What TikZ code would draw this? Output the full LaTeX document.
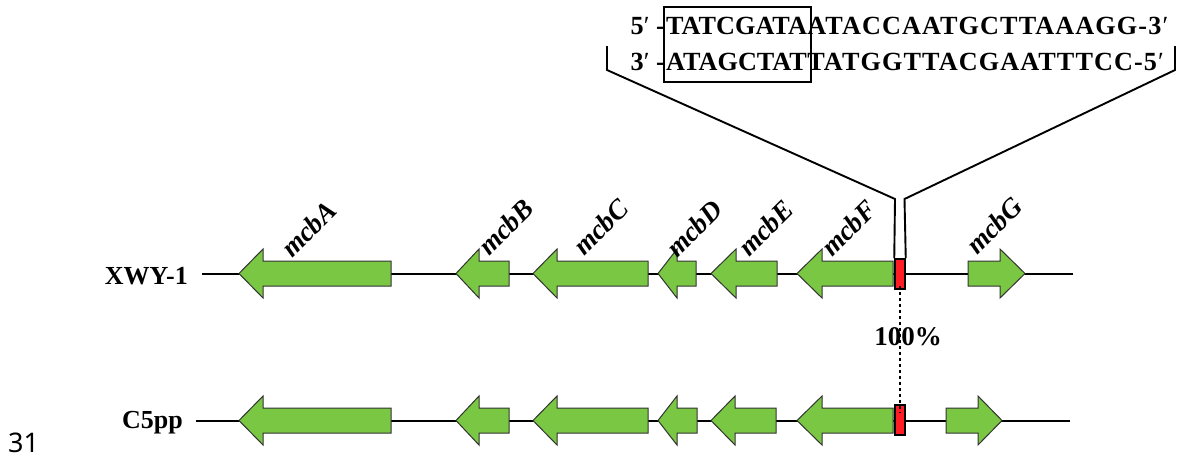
\documentclass[tikz,border=0pt]{standalone}
\usepackage{fontspec}
\setmainfont{Liberation Serif}
\newfontfamily\numfont{Noto Sans}
\newfontfamily\seqwide{Liberation Serif}[LetterSpace=4.2]
\definecolor{genegreen}{RGB}{122,199,67}
\definecolor{markred}{RGB}{255,28,36}
% gene arrows: name, tip x, head-base x, tail x, row y
\newcommand\leftgene[5]{%
  \draw[gene] (#2,#5) -- (#3,{#5-24.5}) -- (#3,{#5-12.5}) -- (#4,{#5-12.5})
    -- (#4,{#5+12.5}) -- (#3,{#5+12.5}) -- (#3,{#5+24.5}) -- cycle;
  \coordinate (#1) at ({(#2+#4)/2},#5);}
\newcommand\rightgene[5]{%
  \draw[gene] (#2,#5) -- (#3,{#5-24.5}) -- (#3,{#5-12.5}) -- (#4,{#5-12.5})
    -- (#4,{#5+12.5}) -- (#3,{#5+12.5}) -- (#3,{#5+24.5}) -- cycle;
  \coordinate (#1) at ({(#2+#4)/2},#5);}
\begin{document}
\begin{tikzpicture}[x=1pt,y=-1pt,
  gene/.style={fill=genegreen,draw=black!80,line width=1pt,line join=miter},
  backbone/.style={line width=2pt},
  marker/.style={fill=markred,draw=black,line width=1.5pt},
  callout/.style={line width=1.9pt},
  genelabel/.style={font=\bfseries\itshape\fontsize{27.5}{28}\selectfont,rotate=45,anchor=base west,inner sep=0pt},
  seq/.style={font=\bfseries\fontsize{26.2}{27}\selectfont,inner sep=0pt},
  seqrest/.style={font=\seqwide\bfseries\fontsize{26.2}{27}\selectfont,inner sep=0pt,anchor=base west},
  strain/.style={font=\bfseries\fontsize{26}{26}\selectfont,anchor=base east,inner sep=0pt}]
\useasboundingbox (0,0) rectangle (1182,459);

% ---- strain XWY-1 ----
\node[strain] (xwy) at (188,284) {XWY-1};
\coordinate (b1s) at (202,273.5);
\coordinate (b1e) at (1073,273.5);
\draw[backbone] (b1s) -- (b1e);
\leftgene{gA1}{239}{263}{391}{273.5}
\leftgene{gB1}{456}{479}{509}{273.5}
\leftgene{gC1}{533}{557}{648}{273.5}
\leftgene{gD1}{658}{677}{696}{273.5}
\leftgene{gE1}{711}{736}{777}{273.5}
\leftgene{gF1}{797}{822}{893}{273.5}
\rightgene{gG1}{1025}{1000}{968}{273.5}
\node[marker,minimum width=10pt,minimum height=30pt,inner sep=0pt] (site1) at (900,274) {};

\node[genelabel] (lA) at (292,259) {mcbA};
\node[genelabel] (lB) at (489,257) {mcbB};
\node[genelabel] (lC) at (584,257) {mcbC};
\node[genelabel] (lD) at (677,259) {mcbD};
\node[genelabel] (lE) at (749,258) {mcbE};
\node[genelabel] (lF) at (832,258) {mcbF};
\node[genelabel] (lG) at (977,256) {mcbG};

% ---- strain C5pp ----
\node[strain] (c5) at (183,428) {C5pp};
\coordinate (b2s) at (196,420.5);
\coordinate (b2e) at (1070,420.5);
\draw[backbone] (b2s) -- (b2e);
\leftgene{gA2}{239}{263}{391}{420.5}
\leftgene{gB2}{456}{479}{509}{420.5}
\leftgene{gC2}{533}{557}{648}{420.5}
\leftgene{gD2}{658}{677}{697}{420.5}
\leftgene{gE2}{711}{735}{776}{420.5}
\leftgene{gF2}{797}{822}{893}{420.5}
\rightgene{gG2}{1002}{978}{946}{420.5}
\node[marker,minimum width=10pt,minimum height=30pt,inner sep=0pt] (site2) at (900,420) {};

% ---- identity between the two insertion sites ----
\node[font=\bfseries\fontsize{27}{28}\selectfont,inner sep=0pt] (pct) at (908,337) {100\%};
\draw[line width=1.8pt,dash pattern=on 3pt off 3pt] ([yshift=4pt]site1.south) -- ([yshift=-8pt]site2.north);

% ---- sequence callout ----
\node[seq,anchor=base east] (p5) at (665,34.5) {5\textmd{′} -};
\node[seq,anchor=base west] (top) at (666,34.5) {TATCGATA};
\node[seqrest] (topr) at (top.base east) {ATACCAATGCTTAAAGG-3\textmd{′}};
\node[seq,anchor=base east] (p3) at (665,70) {3\textmd{′} -};
\node[seq,anchor=base west] (bot) at (666,70) {ATAGCTAT};
\node[seqrest] (botr) at (bot.base east) {TATGGTTACGAATTTCC-5\textmd{′}};
\node[draw,line width=1.5pt,minimum width=147pt,minimum height=75pt,inner sep=0pt] (boxed) at (737.5,44.5) {};

\coordinate (kl) at (895,199);
\coordinate (kr) at (904.5,199);
\coordinate (bl) at (607,70);
\coordinate (br) at (1175,70);
\draw[callout] (site1.north west) -- (kl) -- (bl) -- (607,46);
\draw[callout] (site1.north east) -- (kr) -- (br) -- (1175,46);

% line number
\node[font=\numfont\fontsize{27}{27}\selectfont,anchor=base west,inner sep=0pt] (ln) at (8,452) {31};
\end{tikzpicture}
\end{document}
